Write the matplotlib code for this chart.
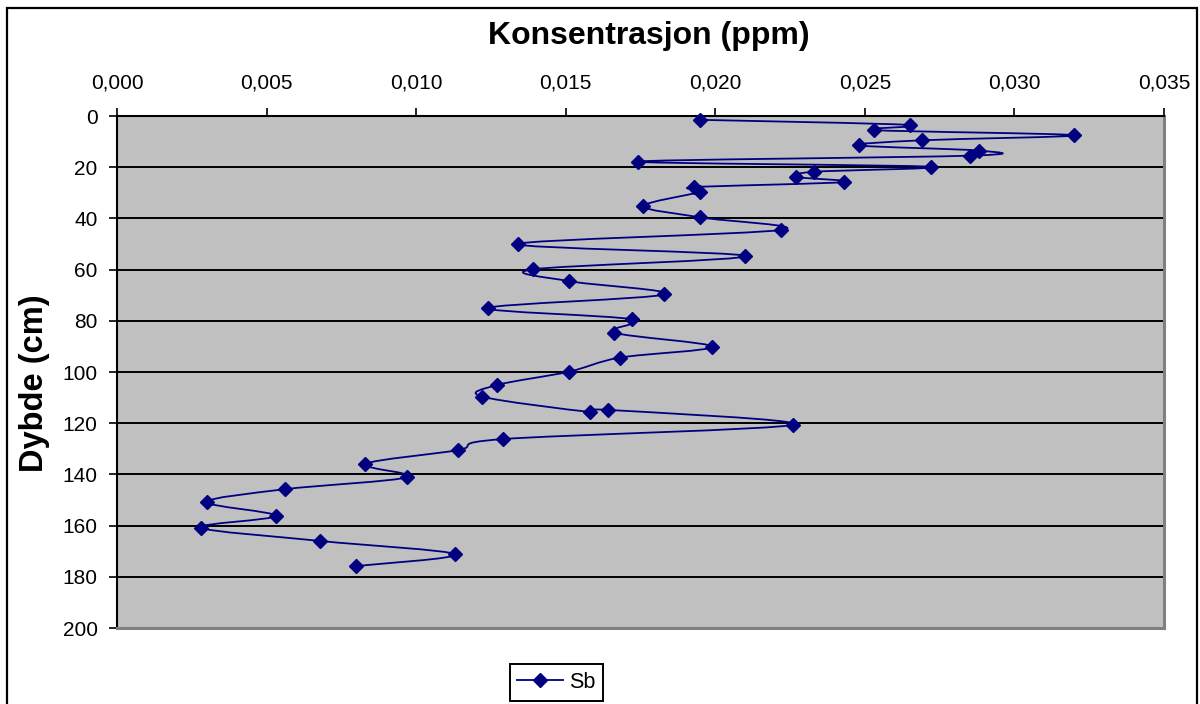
import numpy as np
import matplotlib
matplotlib.use("Agg")
import matplotlib.pyplot as plt
from matplotlib.path import Path
from matplotlib.patches import PathPatch, Rectangle
from matplotlib.ticker import FuncFormatter, MultipleLocator
from matplotlib.lines import Line2D

plt.rcParams["font.family"] = ["Liberation Sans", "DejaVu Sans"]

# Sb concentration profile down the core
depth_cm = [1.5, 3.5, 5.5, 7.5, 9.5, 11.5, 13.5, 15.5, 17.8, 19.8, 21.8, 23.8,
            25.8, 27.8, 29.6, 35.2, 39.6, 44.5, 50.0, 54.7, 59.9, 64.5, 69.7,
            75.0, 79.4, 84.6, 90.1, 94.4, 99.9, 105.1, 109.6, 115.6, 114.8,
            120.6, 126.2, 130.5, 135.9, 141.1, 145.8, 150.8, 156.2, 160.8,
            166.0, 171.2, 175.8]
sb_ppm = [0.0195, 0.0265, 0.0253, 0.0320, 0.0269, 0.0248, 0.0288, 0.0285,
          0.0174, 0.0272, 0.0233, 0.0227, 0.0243, 0.0193, 0.0195, 0.0176,
          0.0195, 0.0222, 0.0134, 0.0210, 0.0139, 0.0151, 0.0183, 0.0124,
          0.0172, 0.0166, 0.0199, 0.0168, 0.0151, 0.0127, 0.0122, 0.0158,
          0.0164, 0.0226, 0.0129, 0.0114, 0.0083, 0.0097, 0.0056, 0.0030,
          0.0053, 0.0028, 0.0068, 0.0113, 0.0080]
series_name = "Sb"
title_text = "Konsentrasjon (ppm)"
ylabel_text = "Dybde (cm)"

NAVY = "#000080"
W, H = 1200, 704


def smooth_path(xs, ys):
    """Cubic Bezier path through the points (Catmull-Rom style smoothing)."""
    pts = np.column_stack([xs, ys]).astype(float)
    n = len(pts)
    verts = [pts[0]]
    codes = [Path.MOVETO]
    for i in range(n - 1):
        p0 = pts[i - 1] if i > 0 else pts[i]
        p1, p2 = pts[i], pts[i + 1]
        p3 = pts[i + 2] if i + 2 < n else pts[i + 1]
        verts += [p1 + (p2 - p0) / 6.0, p2 - (p3 - p1) / 6.0, p2]
        codes += [Path.CURVE4] * 3
    return Path(verts, codes)


fig = plt.figure(figsize=(W / 100, H / 100), dpi=100)
fig.patch.set_facecolor("white")

# outer chart border
fig.patches.append(Rectangle((7 / W, -0.05), 1190 / W, 1 - 8 / H + 0.05,
                             transform=fig.transFigure, fill=False,
                             edgecolor="black", linewidth=1.6, zorder=0))

left, right, top, bottom = 117, 1164, 116, 628
ax = fig.add_axes([left / W, 1 - bottom / H, (right - left) / W, (bottom - top) / H])
ax.set_facecolor("#C0C0C0")

ax.set_xlim(0, 0.035)
ax.set_ylim(200, 0)
ax.xaxis.set_major_locator(MultipleLocator(0.005))
ax.yaxis.set_major_locator(MultipleLocator(20))
ax.xaxis.set_major_formatter(FuncFormatter(lambda v, p: f"{v:.3f}".replace(".", ",")))
ax.yaxis.set_major_formatter(FuncFormatter(lambda v, p: f"{v:.0f}"))
ax.xaxis.tick_top()
ax.tick_params(axis="x", which="major", direction="out", length=6, width=1.2,
               pad=11, labelsize=15, colors="black")
ax.tick_params(axis="y", which="major", direction="out", length=6, width=1.2,
               pad=8, labelsize=15, colors="black")

for s in ("top", "left"):
    ax.spines[s].set_color("black")
    ax.spines[s].set_linewidth(1.5)
for s in ("right", "bottom"):
    ax.spines[s].set_color("#808080")
    ax.spines[s].set_linewidth(2.2)

ax.yaxis.grid(True, color="black", linewidth=1.4)
ax.set_axisbelow(True)

ax.add_patch(PathPatch(smooth_path(sb_ppm, depth_cm), facecolor="none",
                       edgecolor=NAVY, linewidth=1.3, zorder=3))
ax.plot(sb_ppm, depth_cm, linestyle="none", marker="D", markersize=7.3,
        color=NAVY, zorder=4, clip_on=False)

fig.text(649 / W, 1 - 44 / H, title_text, ha="center", va="baseline",
         fontsize=23, fontweight="bold")
fig.text(35 / W, 1 - 383 / H, ylabel_text, ha="center", va="center",
         rotation=90, fontsize=23.5, fontweight="bold")

handle = Line2D([], [], color=NAVY, linewidth=1.3, marker="D", markersize=7.3)
leg = fig.legend([handle], [series_name], loc="center",
                 bbox_to_anchor=(556.5 / W, 1 - 682.5 / H),
                 bbox_transform=fig.transFigure, fontsize=15.5, frameon=True,
                 fancybox=False, edgecolor="black", framealpha=1,
                 handlelength=2.1, handletextpad=0.3, borderpad=0.35,
                 borderaxespad=0)
leg.get_frame().set_linewidth(1.4)

fig.savefig("out.png", dpi=100, facecolor="white")
